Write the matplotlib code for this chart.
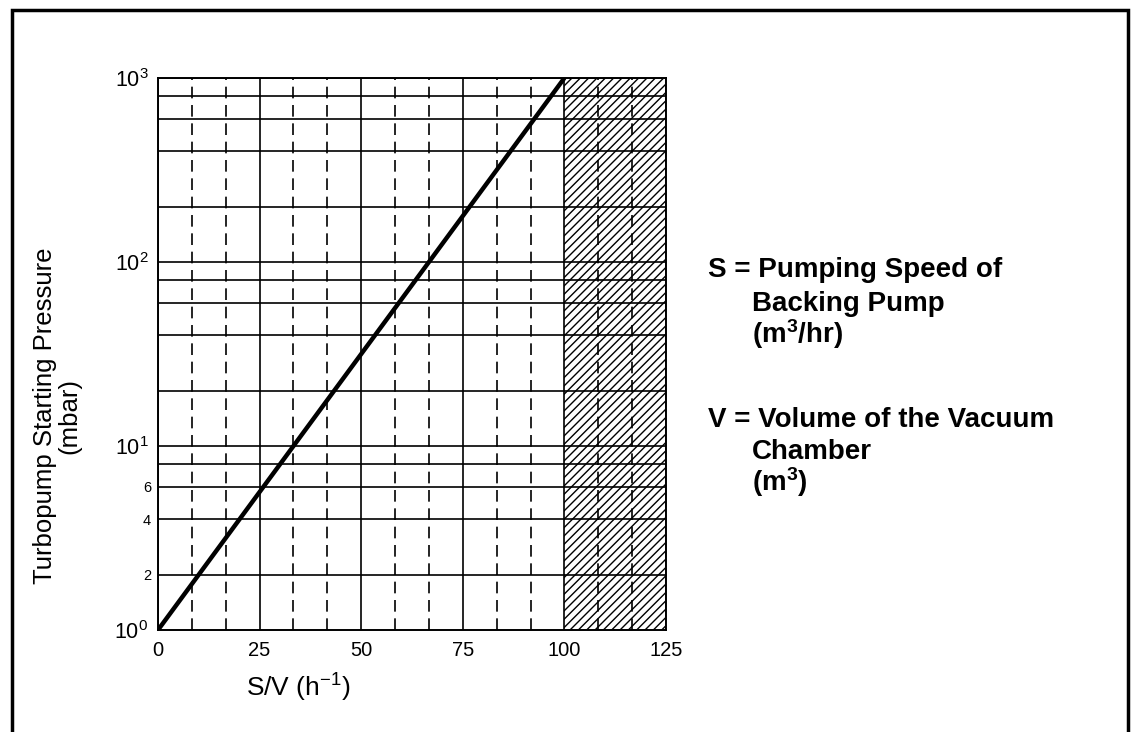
"""
Turbopump starting pressure vs S/V chart.
Saves: out.png
"""
import matplotlib
matplotlib.use("Agg")
import matplotlib.pyplot as plt
import matplotlib.patches as mpatches
import numpy as np

plt.rcParams["font.family"] = ["Liberation Sans", "DejaVu Sans"]
plt.rcParams["mathtext.fontset"] = "custom"
plt.rcParams["mathtext.rm"] = "Liberation Sans"
plt.rcParams["mathtext.it"] = "Liberation Sans"
plt.rcParams["mathtext.bf"] = "Liberation Sans:bold"
plt.rcParams["hatch.linewidth"] = 1.0

# ─── Data ────────────────────────────────────────────────────────────────────
sv_line = [0, 100]            # S/V (h^-1)
p_line = [1, 1000]            # starting pressure (mbar)

x_major = [0, 25, 50, 75, 100, 125]
x_minor = [8.33, 16.67, 33.33, 41.67, 58.33, 66.67, 83.33, 91.67, 108.33, 116.67]
y_grid = [2, 4, 6, 8, 10, 20, 40, 60, 80, 100, 200, 400, 600, 800, 1000]

x_ticklabels = ["0", "25", "50", "75", "100", "125"]
y_major = [1, 10, 100, 1000]
y_major_labels = ["$10^0$", "$10^1$", "$10^2$", "$10^3$"]
y_small = [2, 4, 6]
y_small_labels = ["2", "4", "6"]

hatch_span = (100, 125)

# ─── Figure ──────────────────────────────────────────────────────────────────
fig = plt.figure(figsize=(11.31, 7.32), dpi=100)
ax = fig.add_axes([158 / 1131, 1 - 630 / 732, 508 / 1131, 552 / 732])

ax.set_yscale("log")
ax.set_xlim(0, 125)
ax.set_ylim(1, 1000)

# grid
for y in y_grid:
    ax.axhline(y, color="black", linewidth=1.2, zorder=2)
for x in x_major:
    ax.axvline(x, color="black", linewidth=1.2, zorder=2)
for x in x_minor:
    ax.axvline(x, color="black", linewidth=1.2, linestyle=(0, (7, 4)), zorder=2)

# hatched region
ax.axvspan(hatch_span[0], hatch_span[1], facecolor="none", edgecolor="black",
           hatch="////", linewidth=0, zorder=1)

# main line
ax.plot(sv_line, p_line, color="black", linewidth=3.2, zorder=4,
        solid_capstyle="butt")

# ticks
ax.set_xticks(x_major)
ax.set_xticklabels(x_ticklabels, fontsize=14.5)
ax.set_yticks(y_major)
ax.set_yticklabels(y_major_labels, fontsize=15.5)
ax.set_yticks(y_small, minor=True)
ax.set_yticklabels(y_small_labels, minor=True, fontsize=10.5)
ax.yaxis.set_minor_formatter(plt.FixedFormatter(y_small_labels))
ax.tick_params(axis="both", which="both", length=0)
ax.tick_params(axis="x", pad=8)
ax.tick_params(axis="y", which="major", pad=7)
ax.tick_params(axis="y", which="minor", pad=5)

for s in ax.spines.values():
    s.set_linewidth(1.4)

# axis labels
fig.text(45 / 1131, 1 - 416 / 732, "Turbopump Starting Pressure",
         fontsize=18.5, rotation=90, ha="center", va="center")
fig.text(69 / 1131, 1 - 416 / 732, "(mbar)",
         fontsize=18.5, rotation=90, ha="center", va="center")
fig.text(298 / 1131, 1 - 688 / 732, "S/V (h$^{-1}$)", fontsize=19,
         ha="center", va="center")

# side notes
note_kw = dict(fontsize=20, fontweight="bold", va="center", ha="left")
fig.text(708 / 1131, 1 - 270 / 732, "S = Pumping Speed of", **note_kw)
fig.text(752 / 1131, 1 - 304 / 732, "Backing Pump", **note_kw)
fig.text(752 / 1131, 1 - 334 / 732, r"(m$^\mathbf{3}$/hr)", **note_kw)
fig.text(708 / 1131, 1 - 420 / 732, "V = Volume of the Vacuum", **note_kw)
fig.text(752 / 1131, 1 - 452 / 732, "Chamber", **note_kw)
fig.text(752 / 1131, 1 - 482 / 732, r"(m$^\mathbf{3}$)", **note_kw)

# outer border
border = mpatches.Rectangle((12 / 1131, -0.05), (1128 - 12) / 1131,
                            1.05 - 10 / 732, transform=fig.transFigure,
                            fill=False, edgecolor="black", linewidth=2.5)
fig.patches.append(border)

fig.savefig("out.png", dpi=100, facecolor="white")
